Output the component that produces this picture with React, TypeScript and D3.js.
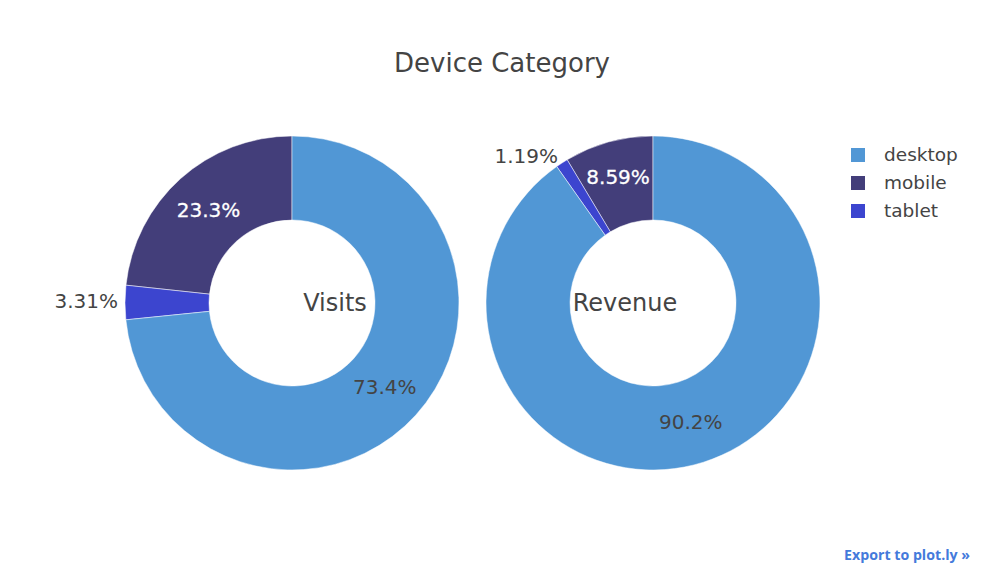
import React from "react";
import * as d3 from "d3";

const categories = ["mobile", "tablet", "desktop"];
const legendOrder = ["desktop", "mobile", "tablet"];
const visitsValues = [23.3, 3.31, 73.4];
const revenueValues = [8.59, 1.19, 90.2];
const centerLabels = ["Visits", "Revenue"];
const colors: Record<string, string> = {
  desktop: "#5197d5",
  mobile: "#433e7a",
  tablet: "#3c45cf",
};
const insideTextColor: Record<string, string> = {
  desktop: "#444444",
  mobile: "#ffffff",
  tablet: "#ffffff",
};

const W = 1003;
const H = 587;
const FONT = "'DejaVu Sans', Verdana, sans-serif";

function Donut({ cx, cy, values }: { cx: number; cy: number; values: number[] }) {
  const R = 167;
  const r = 83;
  const pie = d3
    .pie<number>()
    .sort(null)
    .value((d) => d)
    .startAngle(0)
    .endAngle(-2 * Math.PI);
  const arcs = pie(values);
  const arc = d3.arc<d3.PieArcDatum<number>>().innerRadius(r).outerRadius(R);
  const total = d3.sum(values);
  return (
    <g transform={`translate(${cx},${cy})`}>
      {arcs.map((a, i) => (
        <path key={i} d={arc(a) || ""} fill={colors[categories[i]]} stroke="#ffffff" strokeWidth={0.5} />
      ))}
      {arcs.map((a, i) => {
        const frac = values[i] / total;
        const txt = `${values[i]}%`;
        const mid = (a.startAngle + a.endAngle) / 2;
        if (frac > 0.05) {
          const cat = categories[i];
          const rr = frac < 0.15 ? 131 : (r + R) / 2;
          const x = rr * Math.sin(mid);
          const y = -rr * Math.cos(mid);
          return (
            <text
              key={"t" + i}
              x={x}
              y={y}
              dy="0.35em"
              textAnchor="middle"
              fontFamily={FONT}
              fontSize={20}
              fill={insideTextColor[cat]}
              stroke={cat === "desktop" ? "none" : "#ffffff"}
              strokeWidth={0.3}
            >
              {txt}
            </text>
          );
        }
        const rr = R + 7;
        const x = rr * Math.sin(mid);
        const y = -rr * Math.cos(mid);
        return (
          <text
            key={"t" + i}
            x={x}
            y={y - 1}
            dy="0.35em"
            textAnchor={x < 0 ? "end" : "start"}
            fontFamily={FONT}
            fontSize={20}
            fill="#444444"
          >
            {txt}
          </text>
        );
      })}
    </g>
  );
}

export default function App() {
  return (
    <svg
      width={W}
      height={H}
      style={{ position: "absolute", left: 0, top: 0, background: "#fff" }}
    >
      <rect width={W} height={H} fill="#fff" />
      <text x={502} y={63} dy="0.35em" textAnchor="middle" fontFamily={FONT} fontSize={26} fill="#444444">
        Device Category
      </text>
      <Donut cx={292} cy={303} values={visitsValues} />
      <Donut cx={653} cy={303} values={revenueValues} />
      <text x={335} y={303} dy="0.35em" textAnchor="middle" fontFamily={FONT} fontSize={24} fill="#444444">
        {centerLabels[0]}
      </text>
      <text x={625} y={303} dy="0.35em" textAnchor="middle" fontFamily={FONT} fontSize={24} fill="#444444">
        {centerLabels[1]}
      </text>
      {legendOrder.map((c, i) => (
        <g key={c} transform={`translate(851,${155 + i * 28})`}>
          <rect x={0} y={-7} width={14} height={14} fill={colors[c]} />
          <text x={33} y={0} dy="0.35em" fontFamily={FONT} fontSize={18.5} fill="#444444">
            {c}
          </text>
        </g>
      ))}
      <text x={970} y={555} dy="0.35em" textAnchor="end" fontFamily="'Open Sans', sans-serif" fontSize={14.2} fontWeight={700} fill="#447adb">
        Export to plot.ly »
      </text>
    </svg>
  );
}
